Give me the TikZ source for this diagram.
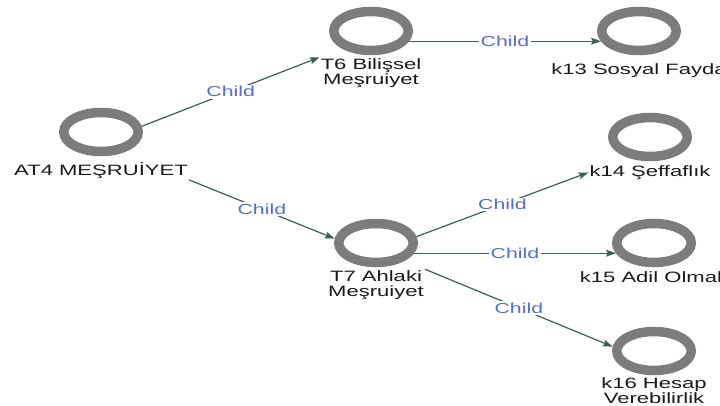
\documentclass[tikz,border=0pt]{standalone}
\usepackage{fontspec}
\newfontfamily\lblfont[FakeStretch=1.47]{Liberation Sans}
\usetikzlibrary{shapes.geometric, arrows.meta, positioning}
\definecolor{ringgray}{RGB}{124, 124, 124}
\definecolor{edgeteal}{RGB}{62, 92, 88}
\definecolor{childblue}{RGB}{85, 110, 200}
\definecolor{lbltext}{RGB}{25, 25, 25}
\tikzset{
  ringnode/.style={ellipse, draw=ringgray, line width=9.5pt, minimum width=74.5pt, minimum height=39pt, inner sep=0pt},
  lblnode/.style={font=\lblfont\fontsize{15}{15}\selectfont, text=lbltext, align=center, inner sep=1pt},
  childlbl/.style={font=\lblfont\fontsize{14.5}{14.5}\selectfont, text=childblue, fill=white, inner sep=1.5pt},
  childarrow/.style={-{Stealth[length=10pt, width=7pt, inset=2pt]}, line width=1.2pt, draw=edgeteal},
}
\begin{document}
\begin{tikzpicture}[x=1pt, y=-1pt]
  \useasboundingbox (0,0) rectangle (720,406);
  \clip (0,0) rectangle (720,406);
  % rings
  \node[ringnode] (at4) at (101,132) {};
  \node[ringnode] (t6) at (371,31) {};
  \node[ringnode] (k13) at (639,31) {};
  \node[ringnode] (k14) at (650,137) {};
  \node[ringnode] (t7) at (376,243) {};
  \node[ringnode] (k15) at (654,243) {};
  \node[ringnode] (k16) at (654,351) {};
  % labels under the rings
  \node[lblnode] (at4l) [below=5pt of at4] {AT4 MEŞRUİYET};
  \node[lblnode] (t6l) [below=2pt of t6] {T6 Bilişsel\\Meşruiyet};
  \node[lblnode] (k13l) [below=7pt of k13] {k13 Sosyal Fayda};
  \node[lblnode] (k14l) [below=3pt of k14] {k14 Şeffaflık};
  \node[lblnode] (t7l) [below=2pt of t7] {T7 Ahlaki\\Meşruiyet};
  \node[lblnode] (k15l) [below=3pt of k15] {k15 Adil Olmak};
  \node[lblnode] (k16l) [below=1pt of k16] {k16 Hesap\\Verebilirlik};
  % child links
  \draw[childarrow] (at4.8) -- node[childlbl] {Child} (t6l.north west);
  \draw[childarrow] (at4l.south east) -- node[childlbl] {Child} (t7.174);
  \draw[childarrow] (t6.-15) -- node[childlbl] {Child} (k13.195);
  \draw[childarrow] (t7.9) -- node[childlbl] {Child} (k14l.west);
  \draw[childarrow] (t7.-15) -- node[childlbl] {Child} (k15.195);
  \draw[childarrow] (t7l.north east) -- node[childlbl] {Child} (k16.174);
\end{tikzpicture}
\end{document}
